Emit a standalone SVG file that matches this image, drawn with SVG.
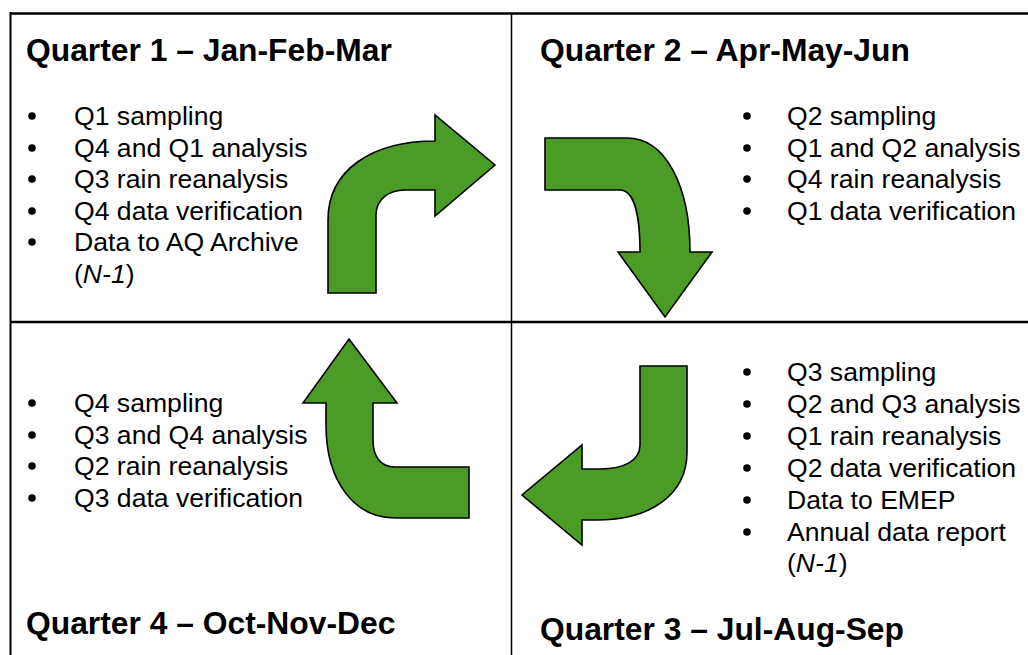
<svg xmlns="http://www.w3.org/2000/svg" width="1028" height="655" viewBox="0 0 1028 655">
<style>
.t{font-family:"Liberation Sans",Arial,sans-serif;font-size:31.8px;font-weight:bold;fill:#000}
.b{font-family:"Liberation Sans",Arial,sans-serif;font-size:26.6px;fill:#000}
.arr{fill:#4a9c26;stroke:#000;stroke-width:1.6;stroke-linejoin:miter}
.line{stroke:#000;fill:none}
</style>
<rect width="1028" height="655" fill="#fff"/>
<g id="grid">
<line class="line" x1="10" y1="13.5" x2="1028" y2="13.5" stroke-width="2.5"/>
<line class="line" x1="10.5" y1="12" x2="10.5" y2="655" stroke-width="2"/>
<line class="line" x1="511.5" y1="13" x2="511.5" y2="655" stroke-width="1.5"/>
<line class="line" x1="10" y1="322" x2="1028" y2="322" stroke-width="2.5"/>
</g>
<g id="q1">
<text class="t" x="26" y="61">Quarter 1 – Jan-Feb-Mar</text>
<g fill="#000"><circle cx="32" cy="116" r="3.8"/><circle cx="32" cy="148" r="3.8"/><circle cx="32" cy="179" r="3.8"/><circle cx="32" cy="211" r="3.8"/><circle cx="32" cy="242" r="3.8"/></g>
<text class="b" x="74" y="125">Q1 sampling</text>
<text class="b" x="74" y="157">Q4 and Q1 analysis</text>
<text class="b" x="74" y="188">Q3 rain reanalysis</text>
<text class="b" x="74" y="220">Q4 data verification</text>
<text class="b" x="74" y="251">Data to AQ Archive</text>
<text class="b" x="74" y="283">(<tspan font-style="italic">N-1</tspan>)</text>
</g>
<g id="q2">
<text class="t" x="540" y="61">Quarter 2 – Apr-May-Jun</text>
<g fill="#000"><circle cx="747" cy="116" r="3.8"/><circle cx="747" cy="148" r="3.8"/><circle cx="747" cy="179" r="3.8"/><circle cx="747" cy="211" r="3.8"/></g>
<text class="b" x="787" y="125">Q2 sampling</text>
<text class="b" x="787" y="157">Q1 and Q2 analysis</text>
<text class="b" x="787" y="188">Q4 rain reanalysis</text>
<text class="b" x="787" y="220">Q1 data verification</text>
</g>
<g id="q3">
<g fill="#000"><circle cx="747" cy="372" r="3.8"/><circle cx="747" cy="404" r="3.8"/><circle cx="747" cy="436" r="3.8"/><circle cx="747" cy="468" r="3.8"/><circle cx="747" cy="500" r="3.8"/><circle cx="747" cy="532" r="3.8"/></g>
<text class="b" x="787" y="381">Q3 sampling</text>
<text class="b" x="787" y="413">Q2 and Q3 analysis</text>
<text class="b" x="787" y="445">Q1 rain reanalysis</text>
<text class="b" x="787" y="477">Q2 data verification</text>
<text class="b" x="787" y="509">Data to EMEP</text>
<text class="b" x="787" y="541">Annual data report</text>
<text class="b" x="787" y="572">(<tspan font-style="italic">N-1</tspan>)</text>
<text class="t" x="540" y="640">Quarter 3 – Jul-Aug-Sep</text>
</g>
<g id="q4">
<g fill="#000"><circle cx="32" cy="403" r="3.8"/><circle cx="32" cy="435" r="3.8"/><circle cx="32" cy="466" r="3.8"/><circle cx="32" cy="498" r="3.8"/></g>
<text class="b" x="74" y="412">Q4 sampling</text>
<text class="b" x="74" y="444">Q3 and Q4 analysis</text>
<text class="b" x="74" y="475">Q2 rain reanalysis</text>
<text class="b" x="74" y="507">Q3 data verification</text>
<text class="t" x="26" y="634">Quarter 4 – Oct-Nov-Dec</text>
</g>
<g id="connectors">
<path class="arr" d="M328,293 L328,220 C328,170 372,141 435,141 L435,115 L495,165 L435,216 L435,190 L405,190 C388,190 376,200 376,215 L376,293 Z"/>
<path class="arr" d="M545,138 L627,138 C665,138 690,185 690,252 L712,252 L665,317 L618,252 L640,252 C640,212 633,190 620,190 L545,190 Z"/>
<path class="arr" d="M640,366 L687,366 L687,452 C687,495 650,520 597,520 L582,520 L582,545 L522,495 L582,445 L582,469 L600,469 C625,469 640,460 640,445 Z"/>
<path class="arr" d="M349,339 L397,403 L373,403 L373,440 C373,456 380,467 395,467 L469,467 L469,518 L395,518 C355,518 326,482 326,425 L326,403 L303,403 Z"/>
</g>
</svg>
